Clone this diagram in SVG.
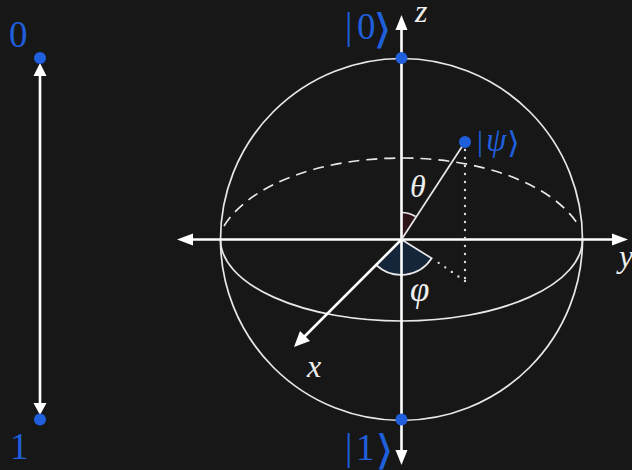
<svg xmlns="http://www.w3.org/2000/svg" width="632" height="470" viewBox="0 0 632 470">
<style>
.t{font-family:"Liberation Serif","DejaVu Serif",serif}
.b{fill:#1f5fdc;font-size:37px}
.br{font-family:"DejaVu Sans",sans-serif;font-weight:200;font-size:41px;fill:#1f5fdc}
.w{fill:#efefef;font-size:32px;font-style:italic}
.ax{stroke:#fff;stroke-width:2.6;fill:none}
.th{stroke:#e8e8e8;stroke-width:1.7;fill:none}
.dot{fill:#1f5fdc}
.ah{fill:#fff}
.dots{stroke:#ddd;stroke-width:2.4;stroke-linecap:round;stroke-dasharray:0 8;fill:none}
</style>
<rect width="632" height="470" fill="#171717"/>
<g id="sphere">
<circle class="th" cx="401.5" cy="239.5" r="181"/>
<path class="th" d="M220.5 239.5A181 81.5 0 0 0 582.5 239.5"/>
<path class="th" stroke-dasharray="11 7" d="M224 226C250 184 322 158 401.5 158C481 158 553 184 579 226"/>
</g>
<g id="angles">
<path d="M401.5 239.5L401.5 212.500A27 27 0 0 1 415.500 216.500Z" fill="#2d1418" stroke="none"/>
<path class="th" d="M401.500 212.500A27 27 0 0 1 415.500 216.500"/>
<path d="M401.500 239.500L431.700 258.300A36.500 36.500 0 0 1 376.700 265.500Z" fill="#15263a" stroke="none"/>
<path class="th" d="M401.500 239.500L431.700 258.300A36.500 36.500 0 0 1 376.700 265.500"/>
</g>
<g id="connectors">
<path class="ax" d="M40 70V410"/>
<path class="ah" d="M40 63L46.500 76H33.500Z"/>
<path class="ah" d="M40 415L46.500 403H33.500Z"/>
<path class="ax" d="M401.500 28V452"/>
<path class="ah" d="M401.500 15L407.500 30H395.500Z"/>
<path class="ah" d="M401.500 465L407.500 450H395.500Z"/>
<path class="ax" d="M190 239.500H615"/>
<path class="ah" d="M628 239.500L612 233.500V245.500Z"/>
<path class="ah" d="M177 239.500L193 233.500V245.500Z"/>
<path class="ax" d="M401.500 239.500L302 339"/>
<path class="ah" d="M294 347L300 331L310 341Z"/>
<path class="th" d="M401.500 239.500L465 142"/>
<path class="dots" d="M465 150V281"/>
<path class="dots" d="M465 281L436 261"/>
</g>
<g id="state0"><circle class="dot" cx="40" cy="58" r="6"/><text class="t b" x="9" y="47">0</text></g>
<g id="state1"><circle class="dot" cx="40" cy="419.500" r="6"/><text class="t b" x="10" y="459">1</text></g>
<g id="ket0"><circle class="dot" cx="401.500" cy="58" r="6"/><text class="t b" x="345" y="39">|<tspan x="357">0</tspan></text><text class="br" transform="translate(373 43) scale(1.2 1)">⟩</text></g>
<g id="ket1"><circle class="dot" cx="401.500" cy="419.500" r="6"/><text class="t b" x="345" y="460">|<tspan x="356">1</tspan></text><text class="br" transform="translate(375 464) scale(1.2 1)">⟩</text></g>
<g id="psi"><circle class="dot" cx="465" cy="142" r="6"/><text class="t b" x="477" y="151" style="font-size:30px">|<tspan font-style="italic" x="486" font-size="33">ψ</tspan></text><text class="br" style="font-size:30px" transform="translate(507 153) scale(1.1 1)">⟩</text></g>
<g id="labels">
<text class="t w" x="415" y="22">z</text>
<text class="t w" x="410" y="197">θ</text>
<text class="t w" x="410" y="301" style="font-size:35px">φ</text>
<text class="t w" x="307" y="377">x</text>
<text class="t w" x="619" y="267">y</text>
</g>
</svg>
